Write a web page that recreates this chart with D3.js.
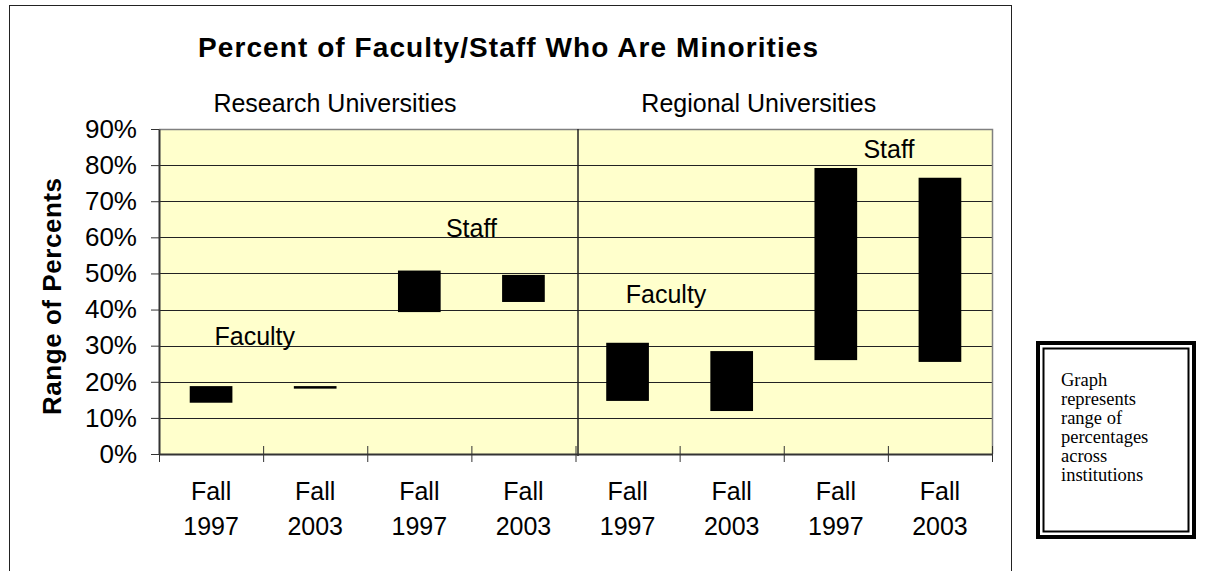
<!DOCTYPE html>
<html>
<head>
<meta charset="utf-8">
<script src="https://cdn.jsdelivr.net/npm/d3@7"></script>
<style>
  body { margin: 0; background: #fff; }
  svg { display: block; font-family: "Liberation Sans", Arial, sans-serif; }
</style>
</head>
<body>
<div id="chart"></div>
<script>
// values (percent)
const groups = ['Research Universities', 'Regional Universities']
const seasons = ['Fall', 'Fall', 'Fall', 'Fall', 'Fall', 'Fall', 'Fall', 'Fall']
const years = ['1997', '2003', '1997', '2003', '1997', '2003', '1997', '2003']
const lowValues = [14.2, 18.1, 39.3, 42.1, 14.7, 11.9, 26.0, 25.5]
const highValues = [18.8, 18.8, 50.8, 49.6, 30.8, 28.5, 79.2, 76.5]
const yTicks = [0, 10, 20, 30, 40, 50, 60, 70, 80, 90]
const noteLines = ['Graph', 'represents', 'range of', 'percentages', 'across', 'institutions']

const width = 1206, height = 571
const margin = {top: 129, right: 214, bottom: 117, left: 159}

const svg = d3.select('#chart').append('svg')
  .attr('width', width)
  .attr('height', height)

// outer chart frame
svg.append('rect')
  .attr('x', 9.5).attr('y', 5.5)
  .attr('width', 1002).attr('height', 620)
  .attr('fill', '#fff')
  .attr('stroke', '#222')

const x = d3.scaleBand()
  .domain(d3.range(years.length))
  .range([margin.left, width - margin.right])

// boundaries between categories (for tick marks and labels)
const xb = d3.scaleLinear()
  .domain([0, years.length])
  .range([margin.left, width - margin.right])

const y = d3.scaleLinear()
  .domain([0, 90])
  .range([height - margin.bottom, margin.top])

const plot = svg.append('g')

plot.append('rect')
  .attr('x', margin.left)
  .attr('y', margin.top)
  .attr('width', xb.range()[1] - margin.left)
  .attr('height', y(0) - y(90))
  .attr('fill', '#ffffcc')

// grid lines
plot.selectAll('line.grid')
  .data(yTicks.filter(d => d > 0 && d < 90))
  .enter().append('line')
  .attr('class', 'grid')
  .attr('x1', margin.left).attr('x2', xb.range()[1])
  .attr('y1', d => Math.round(y(d)) + 0.5)
  .attr('y2', d => Math.round(y(d)) + 0.5)
  .attr('stroke', '#222')
  .attr('stroke-width', 1)

// top + right border of plot area
plot.append('path')
  .attr('d', `M${margin.left},${Math.round(y(90)) + 0.5} H${Math.round(xb.range()[1]) + 0.5} V${y(0)}`)
  .attr('fill', 'none')
  .attr('stroke', '#808080')
  .attr('stroke-width', 1.5)

// divider between the two groups
plot.append('line')
  .attr('x1', xb(4) + 2.5).attr('x2', xb(4) + 2.5)
  .attr('y1', y(90)).attr('y2', y(0) + 2)
  .attr('stroke', '#222')
  .attr('stroke-width', 1.5)

// range bars
const barW = x.bandwidth() * 0.41
plot.selectAll('rect.bar')
  .data(years.map((d, i) => ({i, lo: lowValues[i], hi: highValues[i]})))
  .enter().append('rect')
  .attr('class', 'bar')
  .attr('x', d => x(d.i) + x.bandwidth() / 2 - barW / 2)
  .attr('width', barW)
  .attr('y', d => y(d.hi))
  .attr('height', d => Math.max(2.5, y(d.lo) - y(d.hi)))
  .attr('fill', '#000')

// y axis
const yAxis = svg.append('g')
  .attr('transform', `translate(${margin.left},0)`)
  .call(d3.axisLeft(y)
    .tickValues(yTicks)
    .tickFormat(d => d + '%')
    .tickSizeOuter(0)
    .tickSizeInner(8)
    .tickPadding(14))

yAxis.select('.domain').attr('stroke', '#333').attr('stroke-width', 2)
yAxis.selectAll('.tick line').attr('x1', 0).attr('stroke', '#333')
yAxis.selectAll('.tick text')
  .style('font-size', '26px')
  .style('font-family', '"Liberation Sans", Arial, sans-serif')
  .attr('fill', '#000')

// x axis (cross ticks at category boundaries)
const xAxis = svg.append('g')
  .attr('transform', `translate(0,${y(0)})`)
  .call(d3.axisBottom(xb)
    .tickValues(d3.range(years.length + 1))
    .tickFormat('')
    .tickSizeOuter(0)
    .tickSizeInner(8))

xAxis.select('.domain').attr('stroke', '#333').attr('stroke-width', 2)
xAxis.selectAll('.tick line').attr('y1', -8).attr('stroke', '#333')

// category labels
const catLabels = svg.append('g')
  .selectAll('text')
  .data(years)
  .enter().append('text')
  .attr('x', (d, i) => x(i) + x.bandwidth() / 2)
  .attr('text-anchor', 'middle')
  .style('font-size', '25px')

catLabels.append('tspan')
  .attr('x', (d, i) => x(i) + x.bandwidth() / 2)
  .attr('y', y(0) + 46)
  .text((d, i) => seasons[i])

catLabels.append('tspan')
  .attr('x', (d, i) => x(i) + x.bandwidth() / 2)
  .attr('y', y(0) + 81)
  .text(d => d)

// group headers
svg.selectAll('text.group')
  .data(groups)
  .enter().append('text')
  .attr('class', 'group')
  .attr('x', (d, i) => xb(i === 0 ? 1.69 : 5.76))
  .attr('y', y(90) - 17)
  .attr('text-anchor', 'middle')
  .style('font-size', '25px')
  .text(d => d)

// in-plot annotations
const notes = [
  {t: 'Faculty', k: 0.92, v: 30.2},
  {t: 'Staff', k: 3.0, v: 60.0},
  {t: 'Faculty', k: 4.87, v: 41.8},
  {t: 'Staff', k: 7.01, v: 82.0}
]
svg.selectAll('text.note')
  .data(notes)
  .enter().append('text')
  .attr('class', 'note')
  .attr('x', d => xb(d.k))
  .attr('y', d => y(d.v))
  .attr('text-anchor', 'middle')
  .style('font-size', '25px')
  .text(d => d.t)

// title
svg.append('text')
  .attr('x', 508)
  .attr('y', 57)
  .attr('text-anchor', 'middle')
  .attr('textLength', 620)
  .attr('lengthAdjust', 'spacing')
  .style('font-size', '28px')
  .style('font-weight', 'bold')
  .text('Percent of Faculty/Staff Who Are Minorities')

// y axis title
svg.append('text')
  .attr('transform', `translate(61,${(y(0) + y(90)) / 2 + 5}) rotate(-90)`)
  .attr('text-anchor', 'middle')
  .attr('textLength', 237)
  .attr('lengthAdjust', 'spacing')
  .style('font-size', '26px')
  .style('font-weight', 'bold')
  .text('Range of Percents')

// side note box
const box = svg.append('g').attr('transform', 'translate(1036,341)')
box.append('rect')
  .attr('x', 2).attr('y', 2)
  .attr('width', 156).attr('height', 194)
  .attr('fill', '#fff')
  .attr('stroke', '#000')
  .attr('stroke-width', 4)
box.append('rect')
  .attr('x', 7.5).attr('y', 7.5)
  .attr('width', 145).attr('height', 183)
  .attr('fill', 'none')
  .attr('stroke', '#000')
  .attr('stroke-width', 2)
box.selectAll('text')
  .data(noteLines)
  .enter().append('text')
  .attr('x', 25)
  .attr('y', (d, i) => 45 + i * 19)
  .style('font-family', '"Liberation Serif", "Times New Roman", serif')
  .style('font-size', '18.5px')
  .text(d => d)
</script>
</body>
</html>
